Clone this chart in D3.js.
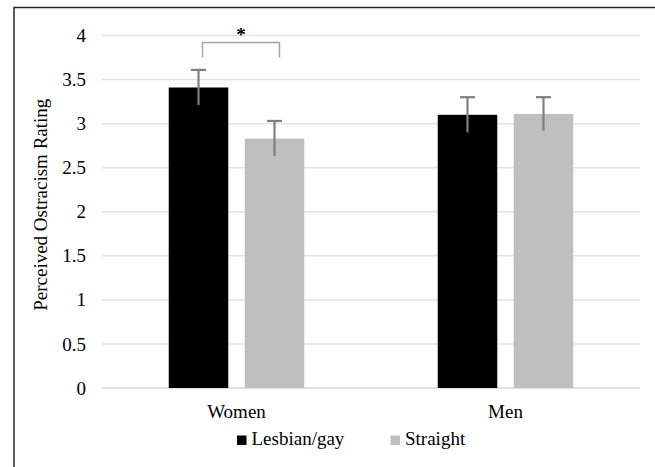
<!DOCTYPE html>
<html>
<head>
<meta charset="utf-8">
<script src="https://cdn.jsdelivr.net/npm/d3@7"></script>
<style>
  html, body { margin: 0; padding: 0; background: #fff; }
  svg { display: block; }
</style>
</head>
<body>
<svg id="chart" width="655" height="467"></svg>
<script>
// Perceived ostracism by participant gender and sexual orientation
const groups = ["Women", "Men"];
const seriesNames = ["Lesbian/gay", "Straight"];
const seriesColors = ["#000000", "#bfbfbf"];
const lesbianGay = [3.41, 3.10];
const straight = [2.83, 3.11];
const lesbianGayErr = [0.20, 0.20];
const straightErr = [0.20, 0.19];
const yTicks = [0, 0.5, 1, 1.5, 2, 2.5, 3, 3.5, 4];

const FONT = "Liberation Serif";
const FS = "19px";

const svg = d3.select("#chart");
const margin = { left: 102, right: 15, top: 35.5, bottom: 79 };
const W = 655, H = 467;
const groupW = 135.5;

const x0 = d3.scaleBand().domain(groups).range([margin.left, W - margin.right]);
const x1 = d3.scaleBand().domain(seriesNames).range([0, groupW]).paddingInner(0.217);
const y = d3.scaleLinear().domain([0, 4]).range([H - margin.bottom, margin.top]);

// outer frame (top and left edges)
svg.append("path")
  .attr("d", `M14,${H} L14,7.5 L${W},7.5`)
  .attr("fill", "none").attr("stroke", "#262626").attr("stroke-width", 1.5);

// horizontal gridlines
svg.append("g").selectAll("line").data(yTicks).join("line")
  .attr("x1", margin.left).attr("x2", W - margin.right)
  .attr("y1", d => y(d)).attr("y2", d => y(d))
  .attr("stroke", d => d === 0 ? "#d9d9d9" : "#e3e3e3").attr("stroke-width", 1.5);

// y axis tick labels
const yAxis = d3.axisLeft(y).tickValues(yTicks).tickSize(0).tickPadding(16)
  .tickFormat(d3.format("~g"));
const ya = svg.append("g").attr("transform", `translate(${margin.left},0)`).call(yAxis);
ya.select(".domain").remove();
ya.selectAll("text").style("font-family", FONT).style("font-size", FS).attr("fill", "#000");

// x axis category labels
const xAxis = d3.axisBottom(x0).tickSize(0).tickPadding(17);
const xa = svg.append("g").attr("transform", `translate(0,${y(0)})`).call(xAxis);
xa.select(".domain").remove();
xa.selectAll("text").style("font-family", FONT).style("font-size", FS).attr("fill", "#000");

// y axis title
svg.append("text")
  .attr("transform", `translate(47,${(y(0) + y(4)) / 2 - 7}) rotate(-90)`)
  .attr("text-anchor", "middle").style("font-family", FONT).style("font-size", FS)
  .text("Perceived Ostracism Rating");

// bars and error bars
const rows = groups.map((g, i) => ({
  group: g,
  items: [
    { s: seriesNames[0], v: lesbianGay[i], e: lesbianGayErr[i], c: seriesColors[0] },
    { s: seriesNames[1], v: straight[i], e: straightErr[i], c: seriesColors[1] }
  ]
}));

const gGroups = svg.append("g").selectAll("g").data(rows).join("g")
  .attr("transform", d => `translate(${x0(d.group) + (x0.bandwidth() - groupW) / 2},0)`);

gGroups.selectAll("rect").data(d => d.items).join("rect")
  .attr("x", d => x1(d.s)).attr("width", x1.bandwidth())
  .attr("y", d => y(d.v)).attr("height", d => y(0) - y(d.v))
  .attr("fill", d => d.c);

const errG = gGroups.selectAll("g.err").data(d => d.items).join("g").attr("class", "err");
errG.append("line")
  .attr("x1", d => x1(d.s) + x1.bandwidth() / 2).attr("x2", d => x1(d.s) + x1.bandwidth() / 2)
  .attr("y1", d => y(d.v + d.e)).attr("y2", d => y(d.v - d.e))
  .attr("stroke", "#7f7f7f").attr("stroke-width", 2.2);
errG.append("line")
  .attr("x1", d => x1(d.s) + x1.bandwidth() / 2 - 7.5).attr("x2", d => x1(d.s) + x1.bandwidth() / 2 + 7.5)
  .attr("y1", d => y(d.v + d.e)).attr("y2", d => y(d.v + d.e))
  .attr("stroke", "#7f7f7f").attr("stroke-width", 2.2);

// significance bracket between the two Women bars
const wOff = x0("Women") + (x0.bandwidth() - groupW) / 2;
const bx1 = wOff + x1(seriesNames[0]) + x1.bandwidth() / 2 + 4;
const bx2 = wOff + x1(seriesNames[1]) + x1.bandwidth() / 2 + 5;
svg.append("path")
  .attr("d", `M${bx1},57.5 L${bx1},42.5 L${bx2},42.5 L${bx2},57.5`)
  .attr("fill", "none").attr("stroke", "#a6a6a6").attr("stroke-width", 1.5);
svg.append("text")
  .attr("x", (bx1 + bx2) / 2).attr("y", 41).attr("text-anchor", "middle")
  .style("font-family", FONT).style("font-size", FS).style("font-weight", "bold").text("*");

// legend
const legend = svg.append("g").attr("transform", "translate(0,445)");
const legendX = [237, 390.5];
seriesNames.forEach((s, i) => {
  legend.append("rect").attr("x", legendX[i]).attr("y", -9.5)
    .attr("width", 9.5).attr("height", 9.5).attr("fill", seriesColors[i]);
  legend.append("text").attr("x", legendX[i] + 14.5).attr("y", 0)
    .style("font-family", FONT).style("font-size", FS).text(s);
});
</script>
</body>
</html>
